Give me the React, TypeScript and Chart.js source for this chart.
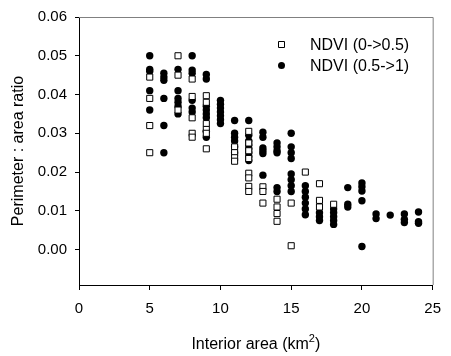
import React, { useEffect, useRef } from "react";
import { Chart, registerables } from "chart.js";

Chart.register(...registerables);

// NDVI (0->0.5) — hollow squares
const lowX = [5, 5, 5, 5, 7, 7, 7, 8, 8, 8, 8, 8, 9, 9, 9, 9, 9, 9, 11, 11, 11, 11, 12, 12, 12, 12, 12, 12, 12, 12, 13, 13, 13, 14, 14, 14, 14, 15, 15, 16, 17, 17, 17, 18];
const lowY = [0.0445, 0.039, 0.032, 0.025, 0.050, 0.045, 0.036, 0.044, 0.0395, 0.034, 0.030, 0.029, 0.0397, 0.038, 0.0325, 0.031, 0.030, 0.026, 0.0265, 0.025, 0.0237, 0.0228, 0.0305, 0.0275, 0.0255, 0.0235, 0.0197, 0.0185, 0.0163, 0.015, 0.0162, 0.015, 0.012, 0.013, 0.011, 0.0093, 0.0073, 0.012, 0.001, 0.020, 0.017, 0.0127, 0.011, 0.0117];

// NDVI (0.5->1) — filled circles
const highX = [5, 5, 5, 5, 5, 6, 6, 6, 6, 6, 6, 7, 7, 7, 7, 7, 7, 8, 8, 8, 8, 8, 8, 9, 9, 9, 9, 9, 9, 9, 9, 10, 10, 10, 10, 10, 10, 10, 11, 11, 11, 11, 11, 11, 12, 12, 12, 12, 12, 12, 12, 12, 13, 13, 13, 13, 13, 13, 14, 14, 14, 14, 14, 14, 15, 15, 15, 15, 15, 15, 15, 15, 16, 16, 16, 16, 16, 16, 17, 17, 17, 18, 18, 18, 18, 18, 19, 19, 19, 20, 20, 20, 20, 20, 21, 21, 22, 23, 23, 23, 24, 24, 24];
const highY = [0.050, 0.0465, 0.046, 0.041, 0.036, 0.0455, 0.0445, 0.0437, 0.039, 0.032, 0.025, 0.0465, 0.041, 0.039, 0.038, 0.037, 0.035, 0.050, 0.0463, 0.0455, 0.0385, 0.0365, 0.0355, 0.0452, 0.044, 0.037, 0.036, 0.035, 0.034, 0.0305, 0.029, 0.0385, 0.0375, 0.0365, 0.0355, 0.0345, 0.0335, 0.0325, 0.0333, 0.030, 0.029, 0.028, 0.0265, 0.025, 0.0333, 0.0295, 0.028, 0.027, 0.026, 0.025, 0.024, 0.023, 0.0303, 0.029, 0.0262, 0.0255, 0.0248, 0.0192, 0.0275, 0.0265, 0.0255, 0.025, 0.016, 0.015, 0.030, 0.0265, 0.025, 0.0235, 0.0195, 0.018, 0.0165, 0.015, 0.0165, 0.015, 0.0135, 0.012, 0.0105, 0.009, 0.0095, 0.0085, 0.0075, 0.0105, 0.0095, 0.0085, 0.0075, 0.0065, 0.016, 0.0117, 0.011, 0.0172, 0.0162, 0.0151, 0.0126, 0.0008, 0.0092, 0.008, 0.0089, 0.0092, 0.0078, 0.007, 0.0097, 0.0072, 0.0068];

const xTicks = [0, 5, 10, 15, 20, 25];
const yTicks = [0, 0.01, 0.02, 0.03, 0.04, 0.05, 0.06];
const legendLabels = ["NDVI (0->0.5)", "NDVI (0.5->1)"];
const xTitle = ["Interior area (km", "2", ")"];
const yTitle = "Perimeter : area ratio";

const FONT = "'Liberation Sans', Arial, sans-serif";

const decor = {
  id: "decor",
  afterDraw(chart: any) {
    const { ctx, chartArea } = chart;
    const { left, right, top, bottom } = chartArea;
    ctx.save();
    // gray frame top & right
    ctx.strokeStyle = "#808080";
    ctx.lineWidth = 1;
    ctx.beginPath();
    ctx.moveTo(left, top + 0.5);
    ctx.lineTo(right + 0.5, top + 0.5);
    ctx.lineTo(right + 0.5, bottom);
    ctx.stroke();

    // legend
    const lx = 281.5;
    const tx = 310;
    const ly = [44.5, 65.5];
    ctx.fillStyle = "#ffffff";
    ctx.strokeStyle = "#000000";
    ctx.lineWidth = 1;
    ctx.beginPath();
    ctx.rect(lx - 3, ly[0] - 3, 6, 6);
    ctx.fill();
    ctx.stroke();
    ctx.fillStyle = "#000000";
    ctx.beginPath();
    ctx.arc(lx, ly[1], 3.5, 0, Math.PI * 2);
    ctx.fill();
    ctx.font = `16px ${FONT}`;
    ctx.textAlign = "left";
    ctx.textBaseline = "middle";
    ctx.fillText(legendLabels[0], tx, ly[0] + 1);
    ctx.fillText(legendLabels[1], tx, ly[1] + 1);

    // x title with superscript
    const mainFont = `16px ${FONT}`;
    const supFont = `11px ${FONT}`;
    ctx.font = mainFont;
    const w1 = ctx.measureText(xTitle[0]).width;
    const w3 = ctx.measureText(xTitle[2]).width;
    ctx.font = supFont;
    const w2 = ctx.measureText(xTitle[1]).width;
    const total = w1 + w2 + w3;
    let x0 = (left + right) / 2 - total / 2;
    const yb = 349;
    ctx.textBaseline = "alphabetic";
    ctx.font = mainFont;
    ctx.fillText(xTitle[0], x0, yb);
    ctx.font = supFont;
    ctx.fillText(xTitle[1], x0 + w1, yb - 7);
    ctx.font = mainFont;
    ctx.fillText(xTitle[2], x0 + w1 + w2, yb);

    // y title
    ctx.translate(19, (top + bottom) / 2);
    ctx.rotate(-Math.PI / 2);
    ctx.textAlign = "center";
    ctx.textBaseline = "middle";
    ctx.font = mainFont;
    ctx.fillText(yTitle, 0, 0);
    ctx.restore();
  },
};

export default function App() {
  const ref = useRef<HTMLCanvasElement | null>(null);
  useEffect(() => {
    document.body.style.margin = "0";
    const canvas = ref.current!;
    const chart = new Chart(canvas, {
      type: "scatter",
      data: {
        datasets: [
          {
            label: legendLabels[0],
            data: lowX.map((x, i) => ({ x, y: lowY[i] })),
            pointStyle: "rect",
            pointRadius: 4.3,
            pointBackgroundColor: "#ffffff",
            pointBorderColor: "#000000",
            pointBorderWidth: 1,
          },
          {
            label: legendLabels[1],
            data: highX.map((x, i) => ({ x, y: highY[i] })),
            pointStyle: "circle",
            pointRadius: 3.7,
            pointBackgroundColor: "#000000",
            pointBorderColor: "#000000",
            pointBorderWidth: 0,
          },
        ],
      },
      options: {
        responsive: false,
        animation: false,
        events: [],
        layout: { padding: { top: 15, right: 10, left: 0, bottom: 0 } },
        plugins: {
          legend: { display: false },
          tooltip: { enabled: false },
        },
        scales: {
          x: {
            type: "linear",
            min: 0,
            max: 25,
            afterBuildTicks: (s: any) => {
              s.ticks = xTicks.map((v) => ({ value: v }));
            },
            afterFit: (s: any) => {
              s.height = 71;
            },
            ticks: {
              color: "#000000",
              font: { family: FONT, size: 15 },
              padding: 10,
              maxRotation: 0,
              callback: (v: any) => String(v),
            },
            grid: { drawOnChartArea: false, tickLength: 5, color: "#000000" },
            border: { color: "#000000", width: 1 },
          },
          y: {
            type: "linear",
            min: -0.00913,
            max: 0.06,
            afterBuildTicks: (s: any) => {
              s.ticks = yTicks.map((v) => ({ value: v }));
            },
            afterFit: (s: any) => {
              s.width = 79;
            },
            ticks: {
              color: "#000000",
              font: { family: FONT, size: 15 },
              padding: 8,
              callback: (v: any) => Number(v).toFixed(2),
            },
            grid: { drawOnChartArea: false, tickLength: 4, color: "#000000" },
            border: { color: "#000000", width: 1 },
          },
        },
      },
      plugins: [decor],
    });
    return () => chart.destroy();
  }, []);
  return (
    <div style={{ width: 451, height: 356 }}>
      <canvas ref={ref} width={451} height={356} style={{ display: "block" }} />
    </div>
  );
}
